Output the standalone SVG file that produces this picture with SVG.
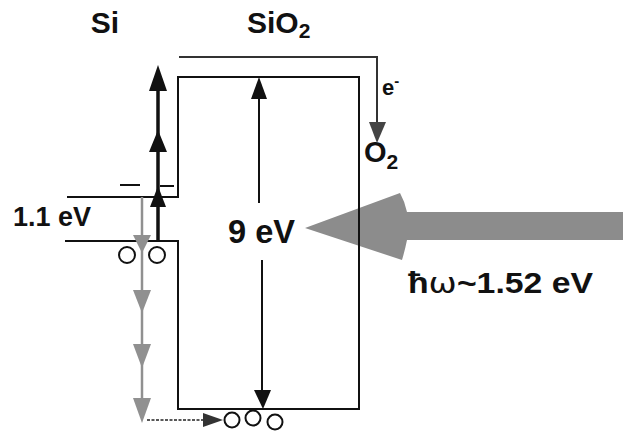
<svg xmlns="http://www.w3.org/2000/svg" width="623" height="432" viewBox="0 0 623 432">
<style>
.t{font-family:"Liberation Sans",Arial,sans-serif;font-weight:bold;fill:#111}
.k{stroke:#111;stroke-width:2;fill:none}
.g{stroke:#909090;stroke-width:2.5;fill:none}
.ah{fill:#111}
.gh{fill:#909090}
.c{fill:#fff;stroke:#111;stroke-width:2}
</style>
<rect width="623" height="432" fill="#fff"/>
<g id="photon">
<path d="M305,228 L400,193 Q405,202 407,212 L623,212 L623,240 L407,240 Q405,250 402,260 Z" fill="#8c8c8c"/>
</g>
<g id="bands">
<path class="k" d="M67,197 H178 V77 H359 V409 H178 V241 H65"/>
</g>
<g id="labels">
<text class="t" x="105" y="33" font-size="30" text-anchor="middle">Si</text>
<text class="t" x="247" y="33" font-size="30">SiO<tspan font-size="21" dy="5">2</tspan></text>
<text class="t" x="382" y="95" font-size="22">e<tspan font-size="15" dy="-9">-</tspan></text>
<text class="t" x="364" y="162" font-size="29">O<tspan font-size="21" dy="7">2</tspan></text>
<text class="t" x="13" y="226" font-size="27" textLength="78" lengthAdjust="spacingAndGlyphs">1.1 eV</text>
<text class="t" x="228" y="243" font-size="33" textLength="67" lengthAdjust="spacingAndGlyphs">9 eV</text>
<text class="t" x="408" y="293" font-size="29" textLength="185" lengthAdjust="spacingAndGlyphs">ħ<tspan font-family="DejaVu Sans" font-weight="normal">ω</tspan>~1.52 eV</text>
</g>
<g id="electrons">
<line x1="120" y1="185" x2="140" y2="185" stroke="#111" stroke-width="2"/>
<line x1="160" y1="186" x2="174" y2="186" stroke="#111" stroke-width="2"/>
</g>
<g id="holes">
<circle class="c" cx="127" cy="255" r="8"/>
<circle class="c" cx="157" cy="255" r="8"/>
<circle class="c" cx="232" cy="420" r="7.5"/>
<circle class="c" cx="253" cy="418" r="7.5"/>
<circle class="c" cx="275" cy="422" r="7.5"/>
</g>
<g id="connectors">
<path d="M179,57 H377 V124" fill="none" stroke="#333" stroke-width="2"/>
<polygon points="369,122 386,122 377,143" fill="#444"/>
<line x1="259" y1="95" x2="259" y2="203" stroke="#111" stroke-width="2"/>
<polygon class="ah" points="251,99 267,99 259,77"/>
<line x1="262" y1="260" x2="262" y2="392" stroke="#111" stroke-width="2"/>
<polygon class="ah" points="254,390 271,390 263,409"/>
<line x1="158" y1="241" x2="158" y2="80" stroke="#111" stroke-width="3.5"/>
<polygon class="ah" points="149,91 167,91 158,65"/>
<polygon class="ah" points="149,152 167,152 158,130"/>
<polygon class="ah" points="150,207 166,207 158,186"/>
<line class="g" x1="142" y1="197" x2="142" y2="410"/>
<polygon class="gh" points="133,235 151,235 142,253"/>
<polygon class="gh" points="133,290 151,290 142,313"/>
<polygon class="gh" points="133,344 151,344 142,368"/>
<polygon class="gh" points="133,398 151,398 142,423"/>
<line x1="147" y1="420" x2="206" y2="420" stroke="#222" stroke-width="1.5" stroke-dasharray="3,1.5"/>
<polygon points="203,413 223,420 203,427" fill="#333"/>
</g>
</svg>
